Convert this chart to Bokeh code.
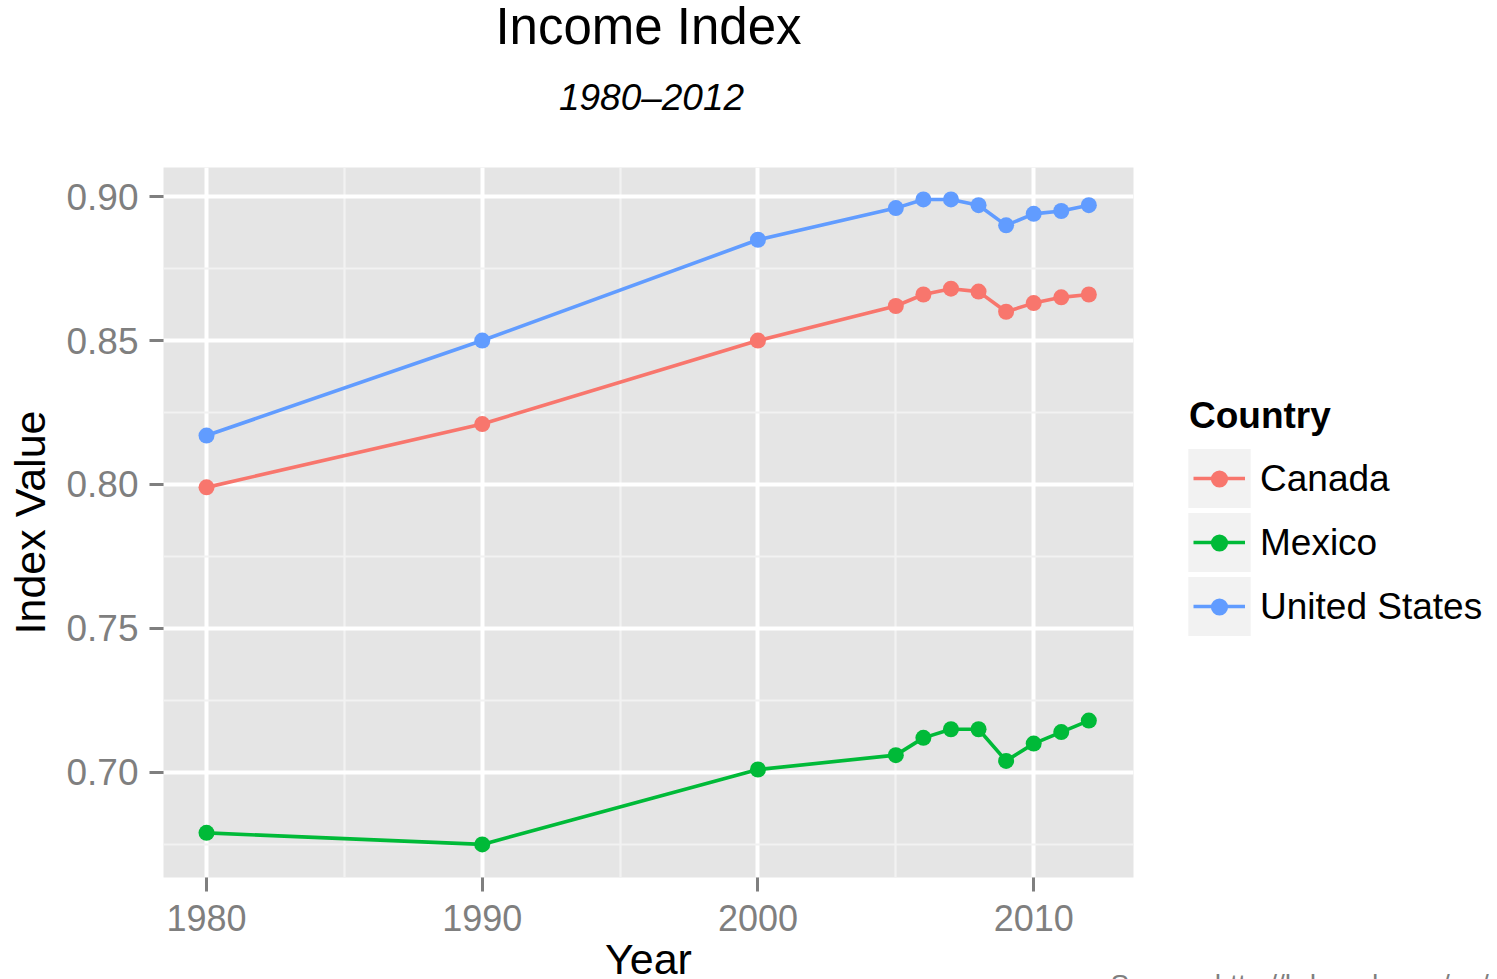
import math
from bokeh.plotting import figure
from bokeh.models import (FixedTicker, Range1d, Label, Legend, LegendItem,
                          ColumnDataSource, PrintfTickFormatter, GridBox)
from bokeh.embed import file_html
from bokeh.resources import INLINE

# ---- data ----
years = [1980, 1990, 2000, 2005, 2006, 2007, 2008, 2009, 2010, 2011, 2012]
canada = [0.799, 0.821, 0.850, 0.862, 0.866, 0.868, 0.867, 0.860, 0.863, 0.865, 0.866]
mexico = [0.679, 0.675, 0.701, 0.706, 0.712, 0.715, 0.715, 0.704, 0.710, 0.714, 0.718]
united_states = [0.817, 0.850, 0.885, 0.896, 0.899, 0.899, 0.897, 0.890, 0.894, 0.895, 0.897]
countries = ["Canada", "Mexico", "United States"]
series = [canada, mexico, united_states]
colors = ["#F8766D", "#00BA38", "#619CFF"]
x_ticks = [1980, 1990, 2000, 2010]
x_minor = [1985, 1995, 2005]
y_ticks = [0.70, 0.75, 0.80, 0.85, 0.90]
y_minor = [0.675, 0.725, 0.775, 0.825, 0.875]
title_text = "Income Index"
subtitle_text = "1980\u20132012"
x_label = "Year"
y_label = "Index Value"
legend_title = "Country"
source_text = "Source: http://hdr.undp.org/en/data"

FONT = "Liberation Sans"
GREY = "#7F7F7F"
LW = 3.6

W, H = 1497, 979
FL, FR, FT, FB = 163, 1133, 167, 877   # frame edges in canvas px

# ================= main chart =================
p = figure(width=W, height=H, output_backend="svg", toolbar_location=None,
           x_range=Range1d(1978.44, 2013.62), y_range=Range1d(0.6635, 0.9101),
           min_border_left=FL, min_border_right=W - FR,
           min_border_top=FT, min_border_bottom=H - FB)
p.background_fill_color = "#E5E5E5"
p.border_fill_color = "white"
p.outline_line_color = None

xt = FixedTicker(ticks=x_ticks, minor_ticks=x_minor)
yt = FixedTicker(ticks=y_ticks, minor_ticks=y_minor)
p.xaxis.ticker = xt
p.yaxis.ticker = yt
p.xgrid.ticker = xt
p.ygrid.ticker = yt
p.yaxis.formatter = PrintfTickFormatter(format="%.2f")

for g in (p.xgrid, p.ygrid):
    g.grid_line_color = "white"
    g.grid_line_width = 4
    g.minor_grid_line_color = "#F2F2F2"
    g.minor_grid_line_width = 2.2

for ax in (p.xaxis, p.yaxis):
    ax.axis_line_color = None
    ax.major_tick_line_color = GREY
    ax.major_tick_line_width = 3
    ax.major_tick_out = 14
    ax.major_tick_in = 0
    ax.minor_tick_line_color = None
    ax.major_label_text_font = FONT
    ax.major_label_text_color = GREY
p.xaxis.major_label_text_font_size = "36px"
p.yaxis.major_label_text_font_size = "37px"
p.xaxis.major_label_standoff = 13
p.yaxis.major_label_standoff = 11

for vals, col in zip(series, colors):
    src = ColumnDataSource(dict(x=years, y=vals))
    p.line("x", "y", source=src, line_color=col, line_width=LW)
for vals, col in zip(series, colors):
    src = ColumnDataSource(dict(x=years, y=vals))
    p.scatter("x", "y", source=src, size=16, fill_color=col, line_color=None)

# ================= overlay: titles, axis titles, legend (pixel coordinates) =================
ov = figure(width=W, height=H, output_backend="svg", toolbar_location=None,
            x_range=Range1d(0, W), y_range=Range1d(H, 0),
            x_axis_type=None, y_axis_type=None, min_border=0)
ov.background_fill_alpha = 0
ov.border_fill_alpha = 0
ov.outline_line_color = None
ov.grid.visible = False

for fig in (p, ov):
    try:
        fig.frame_align = False
    except Exception:
        pass

def lab(text, x, y, size, style="normal", color="black", align="center", angle=0.0):
    ov.add_layout(Label(x=x, y=y, text=text, text_font=FONT, text_font_size=size,
                        text_font_style=style, text_color=color, text_align=align,
                        text_baseline="alphabetic", angle=angle))

lab(title_text, 648, 26, "51px")
lab(subtitle_text, 651, 97, "37px", style="italic")
lab(x_label, 648, 958, "43px")
lab(y_label, 29, 522, "43px", angle=math.pi / 2)
lab(source_text, 1110, 984, "28px", color=GREY, align="left")

nan = float("nan")
key_bg = ov.quad(left=[nan], right=[nan], top=[nan], bottom=[nan],
                 fill_color="#F2F2F2", line_color=None)
key_lines = [ov.line([nan], [nan], line_color=c, line_width=LW) for c in colors]
key_pts = [ov.scatter([nan], [nan], fill_color=c, line_color=None) for c in colors]

common = dict(orientation="vertical", padding=0, margin=0, border_line_color=None,
              background_fill_alpha=0)
# key backgrounds, one per row (area legend glyph is inset 10% on each side)
for i in range(len(countries)):
    ov.add_layout(Legend(items=[LegendItem(label=" ", renderers=[key_bg])],
                         location=(1180.2, H - (514.6 + 64 * i)), label_text_font_size="1px",
                         glyph_width=78, glyph_height=74, label_height=20, label_standoff=0,
                         spacing=0, **common), "center")
# key lines
legL = Legend(items=[LegendItem(label=" ", renderers=[lr]) for lr in key_lines],
              location=(1193, H - 636), label_text_font_size="1px",
              glyph_width=52, glyph_height=60, label_height=20, label_standoff=0,
              spacing=4, **common)
# key points, labels and title
legB = Legend(items=[LegendItem(label=n, renderers=[pr]) for n, pr in zip(countries, key_pts)],
              location=(1189, H - 628),
              title=legend_title, title_text_font=FONT, title_text_font_size="37px",
              title_text_font_style="bold", title_text_color="black", title_standoff=20,
              label_text_font=FONT, label_text_font_size="37px", label_text_color="black",
              glyph_width=60, glyph_height=43, label_height=43, label_standoff=11,
              spacing=21, **common)
ov.add_layout(legL, "center")
ov.add_layout(legB, "center")

layout = GridBox(children=[(p, 0, 0), (ov, 0, 0)], spacing=0)

open("out.html", "w").write(file_html(layout, INLINE))
